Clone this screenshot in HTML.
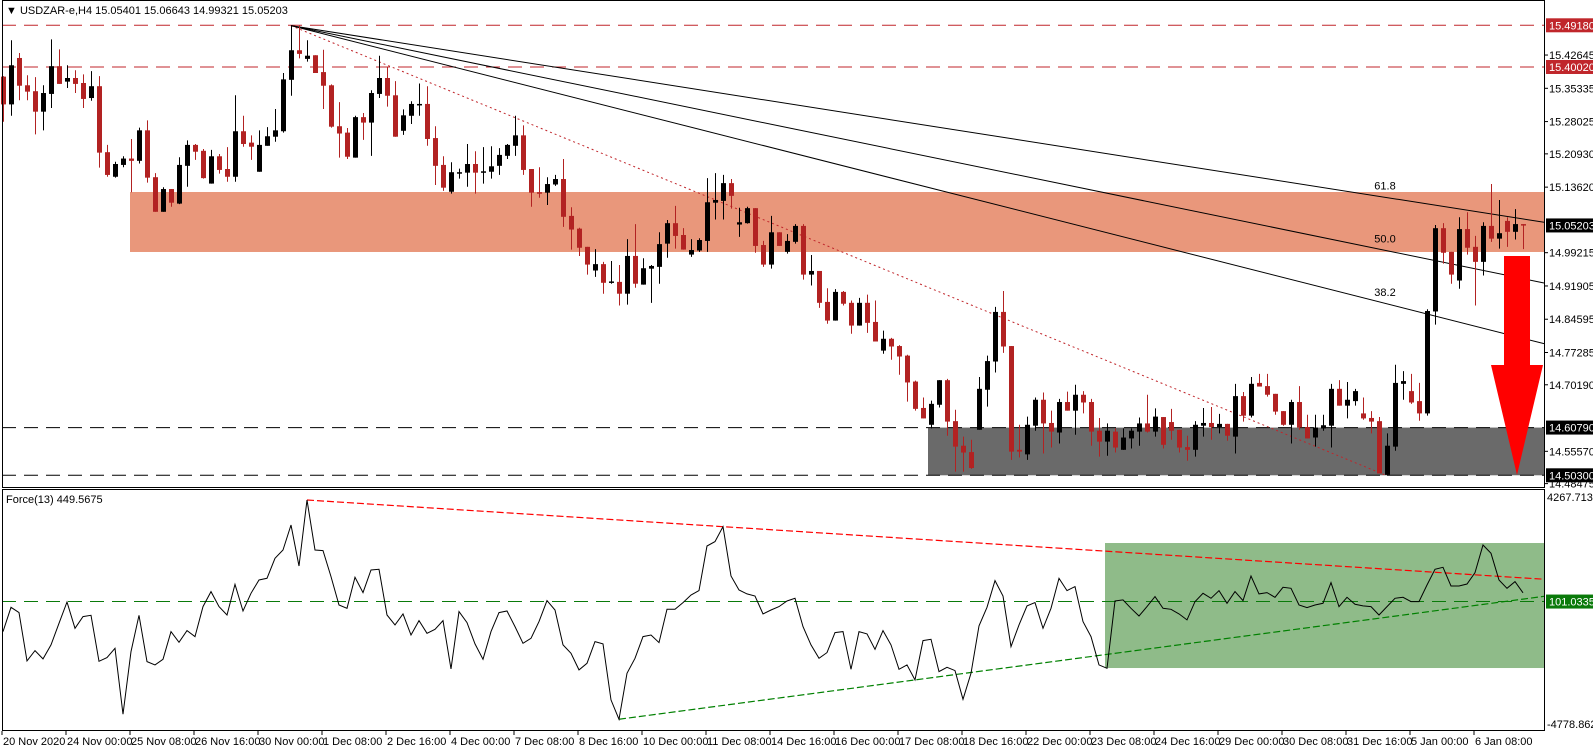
<!DOCTYPE html>
<html><head><meta charset="utf-8"><style>
html,body{margin:0;padding:0;background:#fff;}
svg{display:block;font-family:"Liberation Sans",sans-serif;}
</style></head><body>
<svg id="chart" width="1593" height="752" viewBox="0 0 1593 752" xmlns="http://www.w3.org/2000/svg"></svg>
<script>
// ---- data ----
const openP=[15.379,15.318,15.420,15.360,15.347,15.302,15.341,15.402,15.368,15.376,15.365,15.332,15.358,15.213,15.159,15.185,15.199,15.194,15.261,15.158,15.082,15.132,15.100,15.183,15.229,15.216,15.144,15.204,15.176,15.159,15.259,15.234,15.170,15.227,15.247,15.259,15.372,15.437,15.418,15.426,15.389,15.360,15.270,15.256,15.201,15.290,15.278,15.341,15.376,15.338,15.260,15.293,15.317,15.319,15.244,15.185,15.126,15.168,15.168,15.187,15.169,15.170,15.183,15.205,15.227,15.250,15.176,15.125,15.124,15.142,15.154,15.073,15.045,15.005,14.953,14.967,14.927,14.928,14.902,14.985,14.922,14.957,14.961,15.012,15.057,15.031,14.988,14.997,15.018,15.102,15.106,15.145,15.054,15.057,15.090,15.009,14.966,15.037,14.994,15.016,15.051,14.944,14.952,14.884,14.843,14.906,14.882,14.832,14.882,14.840,14.777,14.803,14.787,14.766,14.709,14.651,14.614,14.658,14.712,14.622,14.568,14.554,14.603,14.691,14.753,14.862,14.787,14.559,14.549,14.612,14.669,14.618,14.597,14.664,14.645,14.680,14.664,14.601,14.577,14.599,14.559,14.584,14.599,14.617,14.599,14.631,14.620,14.603,14.565,14.559,14.612,14.618,14.609,14.616,14.588,14.677,14.634,14.706,14.699,14.682,14.644,14.614,14.664,14.609,14.586,14.606,14.612,14.693,14.656,14.666,14.639,14.629,14.622,14.504,14.566,14.704,14.688,14.666,14.639,14.863,15.046,14.994,14.931,15.044,15.005,14.972,15.051,15.023,15.062,15.038,15.055];
const highP=[15.380,15.459,15.431,15.382,15.378,15.360,15.461,15.439,15.404,15.393,15.384,15.391,15.380,15.229,15.192,15.204,15.242,15.267,15.283,15.167,15.136,15.132,15.202,15.239,15.231,15.220,15.218,15.209,15.224,15.338,15.293,15.250,15.261,15.268,15.308,15.387,15.491,15.491,15.459,15.426,15.438,15.362,15.323,15.266,15.293,15.299,15.349,15.425,15.399,15.369,15.307,15.325,15.364,15.358,15.270,15.204,15.191,15.177,15.231,15.215,15.224,15.226,15.222,15.231,15.293,15.272,15.176,15.180,15.158,15.163,15.198,15.092,15.047,15.005,15.000,14.972,14.974,14.965,15.022,15.055,14.980,14.965,15.037,15.064,15.095,15.046,15.022,15.024,15.156,15.167,15.163,15.154,15.091,15.093,15.090,15.018,15.073,15.037,15.033,15.055,15.055,14.987,14.952,14.914,14.912,14.908,14.887,14.893,14.900,14.887,14.821,14.805,14.789,14.768,14.711,14.674,14.667,14.712,14.715,14.647,14.588,14.581,14.719,14.766,14.873,14.908,14.787,14.614,14.632,14.674,14.685,14.645,14.671,14.687,14.702,14.688,14.671,14.629,14.617,14.606,14.606,14.606,14.630,14.680,14.650,14.631,14.649,14.603,14.590,14.622,14.651,14.653,14.638,14.616,14.704,14.686,14.719,14.726,14.726,14.682,14.644,14.669,14.699,14.636,14.636,14.636,14.704,14.712,14.708,14.693,14.674,14.644,14.631,14.595,14.746,14.732,14.726,14.706,14.868,15.053,15.057,14.994,15.070,15.081,15.029,15.059,15.143,15.108,15.070,15.088,15.055];
const lowP=[15.280,15.293,15.327,15.327,15.252,15.261,15.310,15.363,15.354,15.343,15.310,15.326,15.179,15.159,15.157,15.180,15.125,15.188,15.146,15.082,15.082,15.093,15.099,15.137,15.196,15.155,15.144,15.166,15.148,15.148,15.225,15.196,15.170,15.227,15.236,15.256,15.337,15.419,15.412,15.387,15.308,15.267,15.201,15.198,15.201,15.240,15.205,15.332,15.313,15.247,15.251,15.275,15.293,15.227,15.141,15.128,15.122,15.155,15.137,15.122,15.144,15.155,15.163,15.198,15.205,15.163,15.093,15.113,15.097,15.139,15.049,14.999,14.985,14.944,14.939,14.902,14.924,14.876,14.878,14.915,14.922,14.882,14.924,14.981,15.001,14.999,14.983,14.994,14.994,15.065,15.065,15.089,15.027,15.056,14.992,14.961,14.957,15.007,14.990,15.012,14.933,14.920,14.871,14.836,14.843,14.876,14.814,14.832,14.816,14.797,14.770,14.757,14.724,14.665,14.645,14.628,14.606,14.652,14.590,14.511,14.511,14.517,14.603,14.654,14.729,14.772,14.537,14.542,14.537,14.601,14.551,14.564,14.573,14.645,14.592,14.639,14.568,14.544,14.546,14.553,14.559,14.562,14.568,14.597,14.588,14.562,14.581,14.553,14.535,14.544,14.588,14.581,14.595,14.579,14.551,14.621,14.630,14.698,14.676,14.636,14.612,14.573,14.603,14.584,14.566,14.601,14.564,14.656,14.628,14.656,14.625,14.595,14.507,14.502,14.557,14.669,14.660,14.623,14.634,14.834,14.968,14.924,14.913,14.988,14.876,14.942,15.016,15.001,15.005,15.021,15.000];
const closeP=[15.318,15.404,15.359,15.346,15.302,15.343,15.402,15.363,15.376,15.363,15.330,15.358,15.212,15.163,15.187,15.199,15.194,15.261,15.157,15.082,15.132,15.102,15.185,15.229,15.214,15.156,15.204,15.174,15.159,15.259,15.231,15.225,15.229,15.248,15.261,15.373,15.437,15.429,15.425,15.387,15.359,15.269,15.254,15.203,15.290,15.278,15.343,15.376,15.337,15.247,15.294,15.319,15.319,15.242,15.183,15.135,15.169,15.169,15.187,15.168,15.171,15.182,15.207,15.229,15.250,15.174,15.124,15.123,15.143,15.154,15.071,15.043,15.003,14.966,14.967,14.926,14.929,14.902,14.985,14.924,14.958,14.963,15.011,15.057,15.029,14.999,14.998,15.020,15.103,15.108,15.145,15.117,15.059,15.090,15.007,14.966,15.037,15.007,15.018,15.051,14.944,14.952,14.882,14.843,14.906,14.880,14.832,14.882,14.838,14.797,14.803,14.786,14.764,14.707,14.649,14.628,14.660,14.712,14.621,14.566,14.553,14.519,14.693,14.754,14.862,14.786,14.555,14.555,14.614,14.669,14.617,14.599,14.664,14.645,14.680,14.663,14.599,14.577,14.601,14.564,14.586,14.601,14.617,14.599,14.632,14.570,14.601,14.564,14.559,14.614,14.618,14.609,14.616,14.590,14.677,14.634,14.704,14.698,14.680,14.643,14.614,14.664,14.608,14.584,14.608,14.613,14.693,14.656,14.669,14.688,14.628,14.621,14.507,14.568,14.706,14.710,14.663,14.639,14.864,15.046,14.992,14.944,15.044,15.003,14.972,15.051,15.023,15.035,15.038,15.055,15.052];
const forceV=[-1097,-127,-340,-2265,-1854,-2186,-1628,-765,85,-964,-499,-446,-2279,-2133,-1761,-4390,-1894,-446,-2292,-2425,-2199,-1097,-1522,-1057,-1296,-101,497,-101,-433,789,-274,430,961,1028,1825,2156,3152,1519,4148,2156,2130,1094,-35,-167,1068,457,1360,1386,-433,-831,-393,-1230,-659,-1163,-1004,-659,-2584,-300,-738,-1588,-2199,-1097,-340,-274,-898,-1562,-1363,-698,138,-234,-1628,-1960,-2624,-2359,-1495,-1588,-3819,-4590,-2757,-2159,-1296,-1230,-1535,-207,-207,58,364,536,2316,2489,3086,1121,563,404,324,-393,-234,-101,125,231,-898,-1628,-2159,-1934,-1137,-1097,-2598,-1097,-1190,-1801,-1057,-1628,-2598,-2425,-3022,-1455,-1402,-2690,-2518,-2651,-3793,-2757,-871,-127,935,324,-1695,-831,-74,58,-964,-167,1028,536,696,-698,-1296,-2425,-2558,125,165,-167,-473,-101,297,-167,-207,-393,-632,98,430,231,536,32,497,138,1121,404,457,271,669,629,-35,-141,-35,32,855,-101,271,-8,-74,-101,-433,-101,231,271,98,98,762,1386,1466,722,722,802,1254,2356,2024,961,629,895,450];
const xLabels=["20 Nov 2020","24 Nov 00:00","25 Nov 08:00","26 Nov 16:00","30 Nov 00:00","1 Dec 08:00","2 Dec 16:00","4 Dec 00:00","7 Dec 08:00","8 Dec 16:00","10 Dec 00:00","11 Dec 08:00","14 Dec 16:00","16 Dec 00:00","17 Dec 08:00","18 Dec 16:00","22 Dec 00:00","23 Dec 08:00","24 Dec 16:00","29 Dec 00:00","30 Dec 08:00","31 Dec 16:00","5 Jan 00:00","6 Jan 08:00"];
const priceTicks=[15.42645,15.35335,15.28025,15.20930,15.13620,14.99215,14.91905,14.84595,14.77285,14.70190,14.55570,14.48475];
const resistLevels=[15.4918,15.4002];
const supportLevels=[14.6079,14.5030];
const orangeZone=[15.1255,14.9937];
const greyZone=[14.6079,14.5030];
const fibRatios=[0.618,0.5,0.382];
const forceMax=4267.7138, forceMin=-4778.8623, forceLevel=101.0335;
const forceGreenZone=[2434,-2548];

// ---- scales ----
const PR=1544;
const x=i=>3+8*i;
const yP=p=>25.3+(15.4918-p)*455.1;
const yF=v=>497+(forceMax-v)*(227/(forceMax-forceMin));
const svg=document.getElementById('chart');
const NS="http://www.w3.org/2000/svg";
function mk(tag,attrs,parent){const e=document.createElementNS(NS,tag);for(const k in attrs)e.setAttribute(k,attrs[k]);(parent||svg).appendChild(e);return e;}

// panels
let e;
e=mk('rect',{x:130,y:yP(orangeZone[0]),width:PR-130,height:yP(orangeZone[1])-yP(orangeZone[0]),fill:'#e9977b'});


e=mk('rect',{x:x(116)-3,y:yP(greyZone[0]),width:PR-x(116)+3,height:yP(greyZone[1])-yP(greyZone[0]),fill:'#6a6a6a'});


e=mk('rect',{x:x(138)-2,y:yF(forceGreenZone[0]),width:PR-x(138)+2,height:yF(forceGreenZone[1])-yF(forceGreenZone[0]),fill:'#8fbb89'});



// horizontal levels
resistLevels.forEach(p=>{e=mk('line',{x1:2,x2:PR,y1:yP(p),y2:yP(p),stroke:'#c0262b','stroke-dasharray':'14,8','stroke-width':1});

});
supportLevels.forEach(p=>{e=mk('line',{x1:2,x2:PR,y1:yP(p),y2:yP(p),stroke:'#000','stroke-dasharray':'14,8','stroke-width':1});

});

// fib fan from high to low
let hi=0,lo=0;highP.forEach((v,i)=>{if(v>highP[hi])hi=i;});lowP.forEach((v,i)=>{if(v<lowP[lo])lo=i;});
const x0=x(hi),y0=yP(highP[hi]),x1=x(lo);
e=mk('line',{x1:x0,y1:y0,x2:x1,y2:yP(lowP[lo]),stroke:'#c0262b','stroke-dasharray':'2,3','stroke-width':1});


fibRatios.forEach(r=>{const y1=yP(lowP[lo]+r*(highP[hi]-lowP[lo]));const s=(y1-y0)/(x1-x0);
e=mk('line',{x1:x0,y1:y0,x2:PR,y2:y0+s*(PR-x0),stroke:'#000','stroke-width':1});


const t=mk('text',{x:1385,y:y1-8,'font-size':11,'text-anchor':'middle',fill:'#000'});t.textContent=(r*100).toFixed(1);

});

// candles
openP.forEach((o,i)=>{const c=closeP[i],bull=c>=o,col=bull?'#000':'#b22222';const g=mk('g',{});


mk('line',{x1:x(i)+0.5,x2:x(i)+0.5,y1:yP(highP[i]),y2:yP(lowP[i]),stroke:col,'stroke-width':1},g);
const t=Math.min(yP(o),yP(c)),h=Math.max(1.5,Math.abs(yP(o)-yP(c)));
mk('rect',{x:x(i)-2,y:t,width:5,height:h,fill:col},g);});

// arrow
e=mk('polygon',{points:'1504,256 1530,256 1530,365 1543,365 1517,475 1491,365 1504,365',fill:'#ff0000'});



// force indicator
e=mk('line',{x1:2,x2:PR,y1:yF(forceLevel),y2:yF(forceLevel),stroke:'#0a7a0a','stroke-dasharray':'14,8'});


function tl(a,b,col,name){const s=(yF(forceV[b])-yF(forceV[a]))/(x(b)-x(a));
const l=mk('line',{x1:x(a),y1:yF(forceV[a]),x2:PR,y2:yF(forceV[a])+s*(PR-x(a)),stroke:col,'stroke-dasharray':'7,3','stroke-width':1.2});

}
tl(38,90,'#ff0000','force-resistance-trendline');
tl(77,114,'#008000','force-support-trendline');
e=mk('polyline',{points:forceV.map((v,i)=>x(i)+','+yF(v).toFixed(1)).join(' '),fill:'none',stroke:'#000','stroke-width':1});



// frames
e=mk('rect',{x:2.5,y:0.5,width:PR-2,height:487,fill:'none',stroke:'#000'});


e=mk('rect',{x:2.5,y:489.5,width:PR-2,height:241,fill:'none',stroke:'#000'});



// titles
e=mk('text',{x:6,y:14,'font-size':11,fill:'#000'});e.textContent='▼ USDZAR-e,H4  15.05401 15.06643 14.99321 15.05203';


e=mk('text',{x:6,y:503,'font-size':11,fill:'#000'});e.textContent='Force(13) 449.5675';



// axis ticks
priceTicks.forEach(p=>{mk('line',{x1:PR,x2:PR+4,y1:yP(p),y2:yP(p),stroke:'#000'});
const t=mk('text',{x:PR+5,y:yP(p)+4,'font-size':11,fill:'#000'});t.textContent=p.toFixed(5);

});
[[forceMax,'4267.7138'],[forceMin,'-4778.8623']].forEach(a=>{const t=mk('text',{x:PR+3,y:yF(a[0])+4,'font-size':11,fill:'#000'});t.textContent=a[1];

});
function box(p,y,txt,col,name){const g=mk('g',{});


mk('rect',{x:PR+2,y:y-7,width:48,height:14,fill:col},g);
const t=mk('text',{x:PR+5,y:y+4,'font-size':11,fill:'#fff'},g);t.textContent=txt;}
resistLevels.forEach(p=>box(p,yP(p),p.toFixed(5),'#c0262b','resistance-price-label'));
supportLevels.forEach(p=>box(p,yP(p),p.toFixed(5),'#000','support-price-label'));
box(15.05203,yP(15.05203),'15.05203','#000','current-price-label');
box(forceLevel,yF(forceLevel),'101.0335','#0a7a0a','force-level-label');

xLabels.forEach((l,k)=>{const xx=x(8*k)-1;mk('line',{x1:xx,x2:xx,y1:731,y2:735,stroke:'#000'});
const t=mk('text',{x:xx+1,y:745,'font-size':11,fill:'#000'});t.textContent=l;

});
</script>
</body></html>
